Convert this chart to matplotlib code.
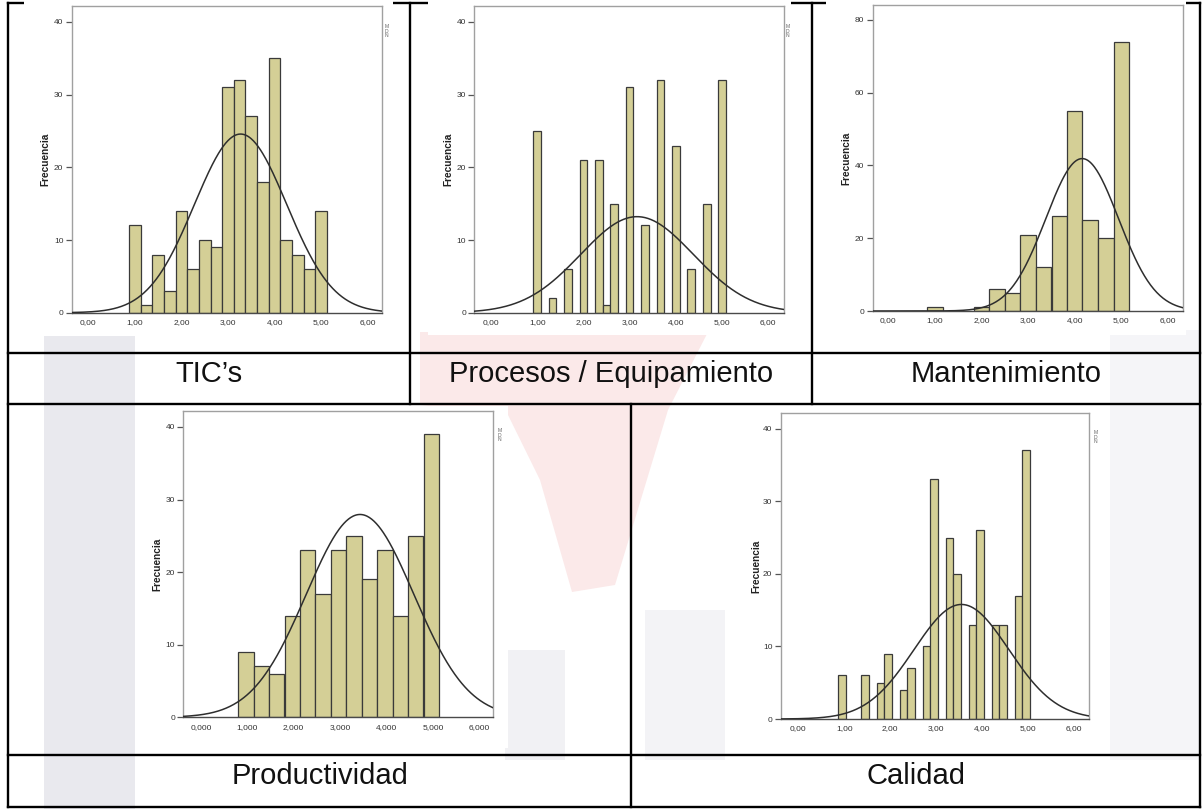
import numpy as np
import matplotlib
matplotlib.use("Agg")
import matplotlib.pyplot as plt
from matplotlib.patches import Rectangle, Polygon

plt.rcParams['font.family'] = ['Liberation Sans', 'DejaVu Sans']

W, H = 1204, 809

# ---------------- data ----------------
tic_centers = [1.00, 1.25, 1.50, 1.75, 2.00, 2.25, 2.50, 2.75, 3.00, 3.25, 3.50,
               3.75, 4.00, 4.25, 4.50, 4.75, 5.00]
tic_counts = [12, 1, 8, 3, 14, 6, 10, 9, 31, 32, 27, 18, 35, 10, 8, 6, 14]
tic_width = 0.25
tic_mean, tic_sd = 3.27, 0.99

proc_centers = [1.00, 1.33, 1.67, 2.00, 2.33, 2.50, 2.67, 3.00, 3.33, 3.67, 4.00,
                4.33, 4.67, 5.00]
proc_counts = [25, 2, 6, 21, 21, 1, 15, 31, 12, 32, 23, 6, 15, 32]
proc_width = 0.167
proc_mean, proc_sd = 3.16, 1.22

mant_centers = [1.00, 2.00, 2.33, 2.67, 3.00, 3.33, 3.67, 4.00, 4.33, 4.67, 5.00]
mant_counts = [1, 1, 6, 5, 21, 12, 26, 55, 25, 20, 74]
mant_width = 0.333
mant_mean, mant_sd = 4.16, 0.78

prod_centers = [0.97, 1.30, 1.63, 1.97, 2.30, 2.63, 2.97, 3.30, 3.63, 3.97, 4.30,
                4.63, 4.97]
prod_counts = [9, 7, 6, 14, 23, 17, 23, 25, 19, 23, 14, 25, 39]
prod_width = 0.333
prod_mean, prod_sd = 3.43, 1.16

cal_centers = [0.95, 1.45, 1.79, 1.95, 2.29, 2.45, 2.79, 2.95, 3.29, 3.45, 3.79,
               3.95, 4.29, 4.45, 4.79, 4.95]
cal_counts = [6, 6, 5, 9, 4, 7, 10, 33, 25, 20, 13, 26, 13, 13, 17, 37]
cal_width = 0.167
cal_mean, cal_sd = 3.55, 1.03

xticks = [0, 1, 2, 3, 4, 5, 6]
xlabels_2d = ["0,00", "1,00", "2,00", "3,00", "4,00", "5,00", "6,00"]
xlabels_3d = ["0,000", "1,000", "2,000", "3,000", "4,000", "5,000", "6,000"]
yticks_40 = [0, 10, 20, 30, 40]
yticks_80 = [0, 20, 40, 60, 80]

names = ["TIC\u2019s", "Procesos / Equipamiento", "Mantenimiento", "Productividad", "Calidad"]

# ---------------- figure ----------------
fig = plt.figure(figsize=(W / 100, H / 100), dpi=100)
fig.patch.set_facecolor('white')


def px_rect(x0, y0, x1, y1):
    return [x0 / W, 1 - y1 / H, (x1 - x0) / W, (y1 - y0) / H]


bg = fig.add_axes([0, 0, 1, 1], zorder=0)
bg.set_xlim(0, W)
bg.set_ylim(H, 0)
bg.axis('off')

# faint watermark
bg.add_patch(Rectangle((44, 0), 91, H, color='#e9e9ee', zorder=1, lw=0))
bg.add_patch(Polygon([(420, 332), (708, 332), (668, 410), (615, 585), (572, 592),
                      (540, 480), (508, 415), (420, 405)], closed=True,
                     color='#fbe9e9', zorder=1, lw=0))
bg.add_patch(Rectangle((645, 610), 80, 150, color='#f3f3f6', zorder=1, lw=0))
bg.add_patch(Rectangle((505, 650), 60, 110, color='#f1f1f4', zorder=1, lw=0))
bg.add_patch(Rectangle((1110, 330), 90, 430, color='#f5f5f8', zorder=1, lw=0))

# table lines
lc = 'black'
lw = 1.7
segs = [
    ((8, 3), (1200, 3)),
    ((8, 3), (8, 807)),
    ((1200, 3), (1200, 807)),
    ((410, 3), (410, 404)),
    ((812, 3), (812, 404)),
    ((631, 404), (631, 807)),
    ((8, 353), (1200, 353)),
    ((8, 404), (1200, 404)),
    ((8, 755), (1200, 755)),
    ((8, 807), (1200, 807)),
]
for (x0, y0), (x1, y1) in segs:
    bg.plot([x0, x1], [y0, y1], color=lc, lw=lw, zorder=2, solid_capstyle='projecting')

# white image backgrounds (cover the top border like the pasted pictures)
for (x0, y0, x1, y1) in [(24, 0, 393, 336), (428, 0, 791, 335), (826, 0, 1186, 335),
                         (140, 406, 508, 748), (735, 406, 1100, 748)]:
    bg.add_patch(Rectangle((x0, y0), x1 - x0, y1 - y0, color='white', zorder=3, lw=0))

bar_face = '#d4cf96'
bar_edge = '#3a3a3a'


def histo(frame, xlim, ylim, centers, counts, width, mean, sd, yticks, xlabels, ylab_x):
    ax = fig.add_axes(px_rect(*frame), zorder=5)
    ax.set_facecolor('white')
    ax.bar(centers, counts, width=width, color=bar_face, edgecolor=bar_edge,
           linewidth=0.9, zorder=2)
    n = sum(counts)
    xs = np.linspace(xlim[0], xlim[1], 400)
    ys = n * width / (sd * np.sqrt(2 * np.pi)) * np.exp(-0.5 * ((xs - mean) / sd) ** 2)
    ax.plot(xs, ys, color='#2e2e2e', lw=1.1, zorder=3)
    ax.set_xlim(*xlim)
    ax.set_ylim(*ylim)
    ax.set_xticks(xticks)
    ax.set_xticklabels(xlabels)
    ax.set_yticks(yticks)
    for s in ['top', 'right', 'left']:
        ax.spines[s].set_color('#a0a0a0')
        ax.spines[s].set_linewidth(1.0)
    ax.spines['bottom'].set_color('#4a4a4a')
    ax.spines['bottom'].set_linewidth(1.0)
    ax.tick_params(axis='y', direction='out', length=4.5, width=0.9, color='#555555',
                   labelsize=6, labelcolor='#333333', pad=1.5)
    ax.tick_params(axis='x', length=0, labelsize=6, labelcolor='#333333', pad=4.5)
    ax.set_ylabel('Frecuencia', fontsize=7.3, fontweight='bold', color='#222222')
    ax.yaxis.set_label_coords(ylab_x, 0.5)
    return ax


histo((71.7, 6, 381.7, 312.7), (-0.356, 6.30), (0, 42.2), tic_centers, tic_counts,
      tic_width, tic_mean, tic_sd, yticks_40, xlabels_2d, -0.068)
histo((474.3, 6, 784, 312.7), (-0.36, 6.34), (0, 42.2), proc_centers, proc_counts,
      proc_width, proc_mean, proc_sd, yticks_40, xlabels_2d, -0.068)
histo((872.7, 4.7, 1183.3, 311), (-0.335, 6.33), (0, 84.2), mant_centers, mant_counts,
      mant_width, mant_mean, mant_sd, yticks_80, xlabels_2d, -0.068)
histo((183.3, 411, 492.7, 717.3), (-0.38, 6.29), (0, 42.2), prod_centers, prod_counts,
      prod_width, prod_mean, prod_sd, yticks_40, xlabels_3d, -0.068)
histo((780.7, 412.7, 1089.3, 719), (-0.38, 6.33), (0, 42.2), cal_centers, cal_counts,
      cal_width, cal_mean, cal_sd, yticks_40, xlabels_2d, -0.062)

# cut-off side statistics fragments
for (x, y) in [(385, 24), (786, 24), (498, 428), (1094, 430)]:
    bg.text(x, y, "M\nD\nN", fontsize=3.6, color='#666666', va='top', ha='left',
            linespacing=0.9, zorder=4)

# cell labels
label_pos = [(209, 382), (611, 382), (1006, 382), (320, 784), (916, 784)]
for name, (x, y) in zip(names, label_pos):
    bg.text(x, y, name, fontsize=21, color='#111111', ha='center', va='baseline', zorder=4)

fig.savefig('out.png', dpi=100, facecolor='white')
